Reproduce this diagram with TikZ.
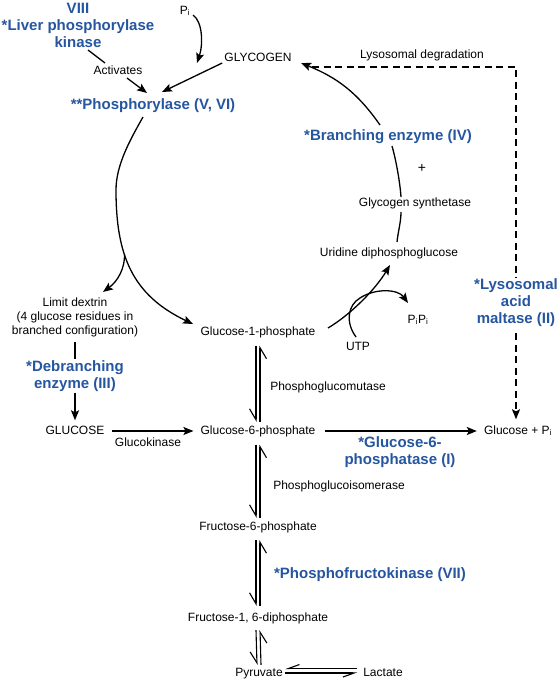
\documentclass[tikz,border=0pt]{standalone}
\usepackage{fontspec}
\setmainfont{Liberation Sans}
\usetikzlibrary{arrows.meta}
\definecolor{enzblue}{RGB}{38,86,160}
\begin{document}
\begin{tikzpicture}[x=1pt,y=-1pt,
  lbl/.style={font=\fontsize{12}{14}\selectfont, inner sep=1pt, text height=8.5pt, text depth=2.5pt},
  mlbl/.style={font=\fontsize{12}{14}\selectfont, align=center, inner sep=1pt},
  enz/.style={font=\fontsize{15}{17}\selectfont\bfseries, text=enzblue, align=center, inner sep=1pt},
  conn/.style={line width=1.3pt},
  arr/.style={conn, -{Stealth[length=10pt,width=8pt,inset=2pt]}},
  dline/.style={line width=1.4pt, dash pattern=on 7pt off 4.5pt},
  vharp/.style={line width=1.1pt, -{Straight Barb[right,length=11pt,width=13pt]}},
  hharp/.style={line width=1.1pt, -{Straight Barb[right,length=11pt,width=8pt]}},
]
\useasboundingbox (0,0) rectangle (558,683);
\fill[white] (0,0) rectangle (558,683);

\node[enz] (kin) at (78,25) {VIII\\*Liver phosphorylase\\kinase};
\node[lbl] (pi) at (185,11) {P\textsubscript{i}};
\node[lbl] (glyc) at (258,58) {GLYCOGEN};
\node[lbl] (lysdeg) at (422,55) {Lysosomal degradation};
\node[lbl] (act) at (118,71) {Activates};
\node[enz] (phos) at (153,106) {**Phosphorylase (V, VI)};
\node[enz] (branch) at (388,137) {*Branching enzyme (IV)};
\node[font=\fontsize{14}{16}\selectfont, inner sep=1pt] (plus) at (422,168) {+};
\node[lbl] (gs) at (415,203) {Glycogen synthetase};
\node[lbl] (udpg) at (389,253) {Uridine diphosphoglucose};
\node[enz] (lam) at (516,303) {*Lysosomal\\acid\\maltase (II)};
\node[lbl] (pipi) at (418,320) {P\textsubscript{i}P\textsubscript{i}};
\node[lbl] (utp) at (358,347) {UTP};
\node[lbl] (g1p) at (258,332) {Glucose-1-phosphate};
\node[mlbl] (ld) at (75,317) {Limit dextrin\\(4 glucose residues in\\branched configuration)};
\node[enz] (deb) at (75,376) {*Debranching\\enzyme (III)};
\node[lbl] (glc) at (75,431) {GLUCOSE};
\node[lbl] (g6p) at (258,431) {Glucose-6-phosphate};
\node[lbl] (glk) at (148,443) {Glucokinase};
\node[lbl] (gpi) at (518,431) {Glucose + P\textsubscript{i}};
\node[enz] (g6pase) at (400,452) {*Glucose-6-\\phosphatase (I)};
\node[lbl] (pgm) at (328,387) {Phosphoglucomutase};
\node[lbl] (pgi) at (339,486) {Phosphoglucoisomerase};
\node[lbl] (f6p) at (258,527) {Fructose-6-phosphate};
\node[enz] (pfk) at (370,575) {*Phosphofructokinase (VII)};
\node[lbl] (f16) at (258,618) {Fructose-1, 6-diphosphate};
\node[lbl] (pyr) at (259,673) {Pyruvate};
\node[lbl] (lac) at (383,673) {Lactate};

% kinase activates phosphorylase
\draw[conn] ([shift={(10,25)}]kin.center) -- ([shift={(-13,-8)}]act.center);
\draw[arr] ([shift={(9,7)}]act.center) -- ([shift={(-6,-13)}]phos.center);
% glycogen -> phosphorylase, Pi
\draw[arr] ([shift={(-1,5)}]glyc.west) -- ([shift={(9,-14)}]phos.center);
\draw[arr] ([shift={(8,4)}]pi.center) .. controls (203,22) and (203,45) .. ([shift={(44,-43)}]phos.center);
% phosphorylase arc
\draw[arr] ([shift={(-10,11)}]phos.center) .. controls (130,140) and (116,165) .. (116,190)
  .. controls (116,255) and (132,295) .. ([shift={(-65,-8)}]g1p.center) coordinate[pos=0.38] (fork);
\draw[arr] (fork) .. controls (125,268) and (118,281) .. ([shift={(28,-25)}]ld.center);
% synthesis arc
\draw[arr] ([shift={(70,-4)}]g1p.center) .. controls (350,315) and (375,290) .. ([shift={(1,12)}]udpg.center);
\draw[arr] ([shift={(-2,-10)}]utp.center) .. controls (345,322) and (348,305) .. (360,298)
  .. controls (375,288) and (398,289) .. ([shift={(-10,-17)}]pipi.center);
\draw[conn] ([shift={(8,-11)}]udpg.center) .. controls (398,232) and (401,222) .. ([shift={(-14,9)}]gs.center);
\draw[conn] ([shift={(-14,-6)}]gs.center) .. controls (400,182) and (396,160) .. ([shift={(4,9)}]branch.center);
\draw[arr] ([shift={(-8,-12)}]branch.center) .. controls (357.5,92.8) and (337.4,77.7) .. ([shift={(43,5)}]glyc.center);
% lysosomal
\draw[dline] ([shift={(54,9)}]glyc.center) -| (lam.north);
\draw[dline, -{Stealth[length=10pt,width=8pt,inset=2pt]}, shorten >=5pt] ([yshift=-5pt]lam.south) -- (lam.south |- gpi.north);
% glucose
\draw[conn] ([yshift=-4pt]ld.south) -- (deb.north);
\draw[arr, shorten >=4pt] (deb.south) -- (glc.north);
\draw[arr] ([xshift=6pt]glc.east) -- ([xshift=-6pt]g6p.west);
\draw[arr] ([xshift=8pt]g6p.east) -- ([xshift=-6pt]gpi.west);
% equilibria
\draw[vharp] ([shift={(-2,7)}]g1p.south) -- ([shift={(-2,-2.5)}]g6p.north);
\draw[vharp] ([shift={(2,-2.5)}]g6p.north) -- ([shift={(2,7)}]g1p.south);
\draw[vharp] ([shift={(-2,7)}]g6p.south) -- ([shift={(-2,-2.5)}]f6p.north);
\draw[vharp] ([shift={(2,-2.5)}]f6p.north) -- ([shift={(2,7)}]g6p.south);
\draw[vharp] ([shift={(-2,6.5)}]f6p.south) -- ([shift={(-2,-5.5)}]f16.north);
\draw[vharp] ([shift={(2,-5.5)}]f16.north) -- ([shift={(2,6.5)}]f6p.south);
\draw[vharp] ([shift={(-2,5.5)}]f16.south) -- ([shift={(-2,-1.5)}]pyr.north);
\draw[vharp] ([shift={(2,-1.5)}]pyr.north) -- ([shift={(2,5.5)}]f16.south);
\draw[hharp] ([shift={(-5,-4.5)}]lac.west) -- ([shift={(1.5,-4.5)}]pyr.east);
\draw[hharp] ([shift={(1.5,0)}]pyr.east) -- ([shift={(-5,0)}]lac.west);
\end{tikzpicture}
\end{document}
